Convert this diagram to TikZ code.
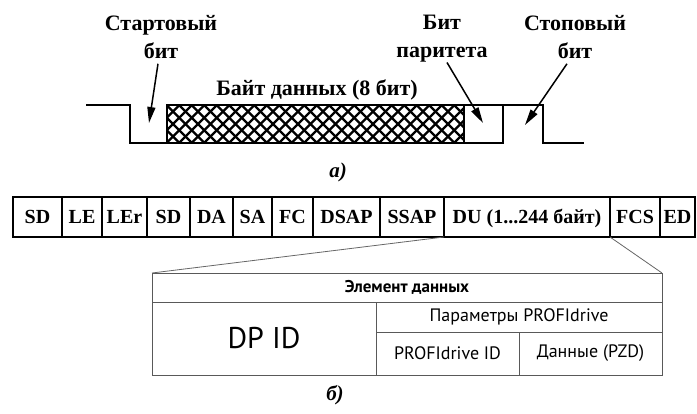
\documentclass[tikz,border=0pt]{standalone}
\usepackage{fontspec}
\setmainfont{Liberation Serif}
\newfontfamily\tabfont{PT Sans}
\usetikzlibrary{arrows.meta,calc}

\tikzset{
  lbl/.style={font=\fontsize{22}{28}\selectfont\bfseries, align=center, inner sep=0pt},
  pointer/.style={line width=1.5pt, -{Triangle[length=16pt,width=8pt]}},
  signal/.style={line width=2pt},
  cell/.style={draw, line width=1.4pt, minimum height=40pt, inner sep=0pt, outer sep=0pt,
    text height=14pt, text depth=0pt, font=\fontsize{20}{24}\selectfont\bfseries},
  tabcell/.style={draw=black!65, line width=0.9pt, inner sep=0pt, outer sep=0pt,
    anchor=north west, font=\tabfont\fontsize{18}{22}\selectfont},
  zoomline/.style={draw=black!60, line width=0.8pt},
  caption/.style={font=\fontsize{21}{24}\selectfont\bfseries\itshape}
}

\begin{document}
\begin{tikzpicture}[x=1pt,y=-1pt]
  \useasboundingbox (0,0) rectangle (697,414);

  % a) one character on the line
  \draw [signal] (86,105) -- (130,105) -- (130,143) -- (503,143) -- (503,105);
  \draw [signal] (167,143) -- (167,105) -- (543,105) -- (543,143) -- (584,143);
  \draw [signal] (464,105) -- (464,143);
  \begin{scope}
    \clip (167,105) rectangle (464,143);
    \foreach \x in {129,141.5,...,470}{
      \draw [line width=2.4pt] (\x,143) -- ++(38,-38);
      \draw [line width=2.4pt] (\x,105) -- ++(38,38);
    }
  \end{scope}

  \node [lbl, anchor=north] (startlbl) at (161,15) {Стартовый\\бит};
  \node [lbl, anchor=north] (parlbl) at (442,15) {Бит\\паритета};
  \node [lbl, anchor=north] (stoplbl) at (575,15) {Стоповый\\бит};
  \node [lbl, anchor=base] (bytelbl) at (317,96) {Байт данных (8 бит)};

  \coordinate (starttip) at (149,123);
  \coordinate (partip) at (483,123);
  \coordinate (stoptip) at (525,125);
  \draw [pointer] ($(startlbl.south)+(-3,5)$) -- (starttip);
  \draw [pointer] ($(parlbl.south)+(5,0)$) -- (partip);
  \draw [pointer] ($(stoplbl.south)+(-8,5)$) -- (stoptip);

  \node [caption] (capa) at (338,172) {а)};

  % b) telegram
  \foreach \n/\l/\r/\t in {sda/13/62/SD, lea/62/102/LE, ler/102/147/LEr, sdb/147/190/SD,
      da/190/233/DA, sa/233/272/SA, fc/272/313/FC, dsap/313/380/DSAP,
      ssap/380/444/SSAP, fcs/610/660/FCS, ed/660/695/ED}{
    \node [cell, minimum width=\r pt-\l pt] (\n) at ({(\l+\r)/2},217) {\t};
  }
  \node [cell, minimum width=166pt] (du) at (527,217) {DU (1...244 байт)};

  \node [tabcell, minimum width=510pt, minimum height=29pt,
    font=\tabfont\bfseries\fontsize{17}{20}\selectfont] (elem) at (152,273) {Элемент данных};
  \node [tabcell, minimum width=224pt, minimum height=73pt,
    font=\tabfont\fontsize{30}{34}\selectfont] (dpid) at (152,302) {DP ID};
  \node [tabcell, minimum width=286pt, minimum height=30pt] (param) at (376,302) {Параметры PROFIdrive};
  \node [tabcell, minimum width=143pt, minimum height=43pt] (pid) at (376,332) {PROFIdrive ID};
  \node [tabcell, minimum width=143pt, minimum height=43pt] (pzd) at (519,332) {Данные (PZD)};

  \draw [zoomline] (du.south west) -- (elem.north west);
  \draw [zoomline] (du.south east) -- (elem.north east);

  \node [caption] (capb) at (335,395) {б)};
\end{tikzpicture}
\end{document}
